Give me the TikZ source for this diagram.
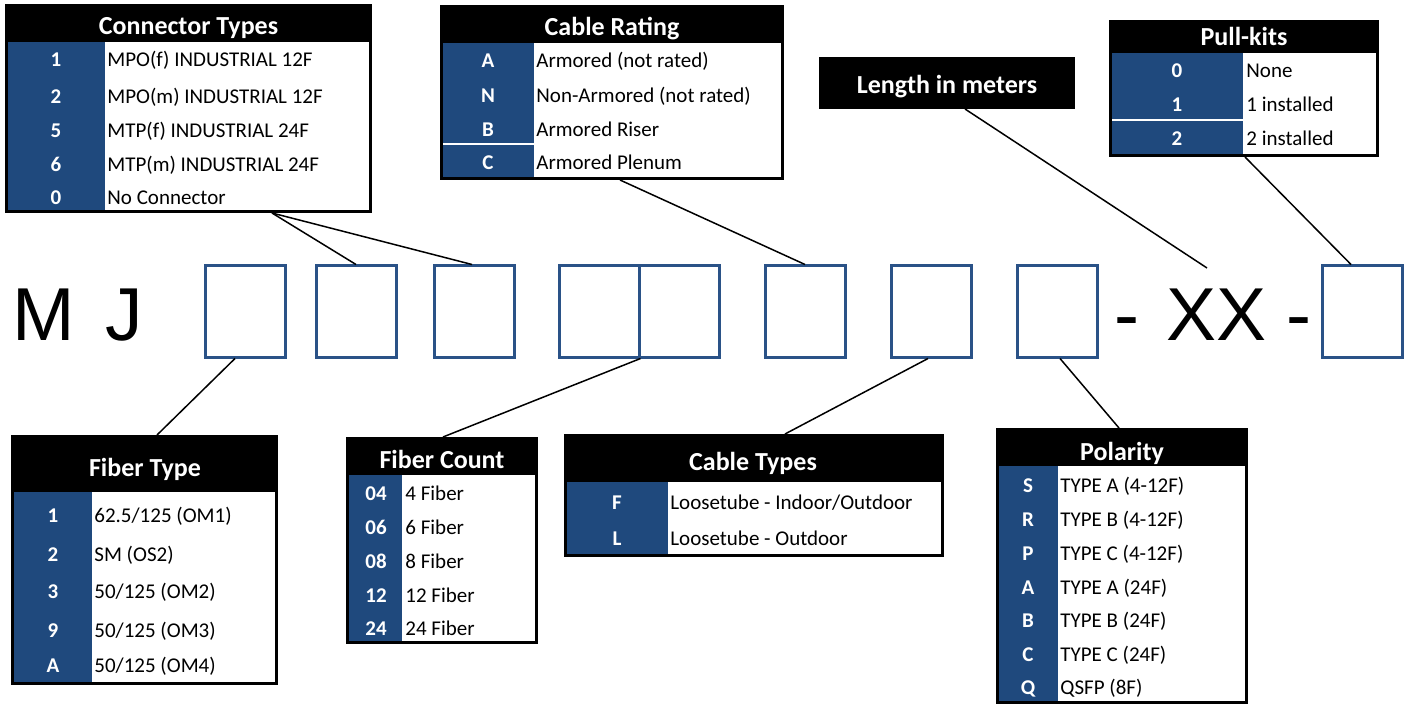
\documentclass[tikz,border=0pt]{standalone}
\usepackage{fontspec}
\setmainfont{Carlito}
\newfontfamily\arialf{Liberation Sans}
\usetikzlibrary{calc,fit}
\definecolor{tblue}{HTML}{1F497D}
\definecolor{bblue}{HTML}{2A5287}
\begin{document}
\begin{tikzpicture}[x=0.5pt,y=-0.5pt,
  frame/.style={fill=black,draw=none,inner sep=0pt,outer sep=0pt},
  bluecol/.style={fill=tblue,draw=none,inner sep=0pt,outer sep=0pt},
  whitecol/.style={fill=white,draw=none,inner sep=0pt,outer sep=0pt},
  hdr/.style={text=white,font=\bfseries\fontsize{13}{15}\selectfont,inner sep=0pt,text height=8.4pt,text depth=0pt},
  key/.style={text=white,font=\bfseries\fontsize{10.5}{12}\selectfont,inner sep=0pt,text height=6.8pt,text depth=0pt},
  itm/.style={text=black,font=\fontsize{10.5}{12}\selectfont,inner sep=0pt,text height=6.8pt,text depth=0pt,anchor=west},
  big/.style={font=\arialf\fontsize{37.5}{40}\selectfont,inner sep=0pt,anchor=base west},
  cbox/.style={draw=bblue,line width=1.5pt,minimum width=40pt,minimum height=45.5pt,inner sep=0pt},
  conn/.style={draw=black,line width=0.75pt},
  sepline/.style={draw=white,line width=0.75pt}]
\useasboundingbox (0,0) rectangle (1406,705);

% ---------- Connector Types ----------
\node[frame,fit={(5,4) (372,213)}] (ct) {};
\node[bluecol,fit={(8,42) (105,210)}] (ctb) {};
\node[whitecol,fit={(105,42) (369,210)}] (ctw) {};
\node[hdr] (cth) at (188.5,26) {Connector Types};
\foreach \y/\k/\t [count=\i] in {60/1/{MPO(f) INDUSTRIAL 12F},97/2/{MPO(m) INDUSTRIAL 12F},131/5/{MTP(f) INDUSTRIAL 24F},165/6/{MTP(m) INDUSTRIAL 24F},198/0/{No Connector}}{
  \node[key] (ctk\i) at (56,\y) {\k};
  \node[itm] (ctt\i) at (107,\y) {\t};
}

% ---------- Cable Rating ----------
\node[frame,fit={(440,5) (784,180)}] (cr) {};
\node[bluecol,fit={(443,43) (534,177)}] (crb) {};
\node[whitecol,fit={(534,43) (781,177)}] (crw) {};
\node[hdr] (crh) at (612,27) {Cable Rating};
\foreach \y/\k/\t [count=\i] in {61/A/{Armored (not rated)},96/N/{Non-Armored (not rated)},130/B/{Armored Riser},163/C/{Armored Plenum}}{
  \node[key] (crk\i) at (488,\y) {\k};
  \node[itm] (crt\i) at (536,\y) {\t};
}
\draw[sepline] (443,144) -- (534,144);

% ---------- Length in meters ----------
\node[frame,fit={(819,57) (1075,109)}] (lm) {};
\node[hdr] (lmh) at (947,85) {Length in meters};

% ---------- Pull-kits ----------
\node[frame,fit={(1109,20) (1379,157)}] (pk) {};
\node[bluecol,fit={(1112,53) (1243,154)}] (pkb) {};
\node[whitecol,fit={(1243,53) (1376,154)}] (pkw) {};
\node[hdr] (pkh) at (1244,37) {Pull-kits};
\foreach \y/\k/\t [count=\i] in {71/0/{None},105/1/{1 installed},139/2/{2 installed}}{
  \node[key] (pkk\i) at (1177,\y) {\k};
  \node[itm] (pkt\i) at (1246,\y) {\t};
}
\draw[sepline] (1112,120) -- (1243,120);

% ---------- Fiber Type ----------
\node[frame,fit={(11,435) (278,685)}] (ft) {};
\node[bluecol,fit={(14,492) (92,682)}] (ftb) {};
\node[whitecol,fit={(92,492) (275,682)}] (ftw) {};
\node[hdr] (fth) at (145,468) {Fiber Type};
\foreach \y/\k/\t [count=\i] in {516/1/{62.5/125 (OM1)},555/2/{SM (OS2)},592/3/{50/125 (OM2)},631/9/{50/125 (OM3)},666/A/{50/125 (OM4)}}{
  \node[key] (ftk\i) at (53,\y) {\k};
  \node[itm] (ftt\i) at (94,\y) {\t};
}

% ---------- Fiber Count ----------
\node[frame,fit={(346,437) (538,644)}] (fc) {};
\node[bluecol,fit={(349,475) (402,641)}] (fcb) {};
\node[whitecol,fit={(402,475) (535,641)}] (fcw) {};
\node[hdr] (fch) at (442,460) {Fiber Count};
\foreach \y/\k/\t [count=\i] in {494/04/{4 Fiber},528/06/{6 Fiber},562/08/{8 Fiber},596/12/{12 Fiber},629/24/{24 Fiber}}{
  \node[key] (fck\i) at (376,\y) {\k};
  \node[itm] (fct\i) at (405,\y) {\t};
}

% ---------- Cable Types ----------
\node[frame,fit={(564,434) (944,557)}] (cty) {};
\node[bluecol,fit={(567,482) (668,554)}] (ctyb) {};
\node[whitecol,fit={(668,482) (941,554)}] (ctyw) {};
\node[hdr] (ctyh) at (753,462) {Cable Types};
\foreach \y/\k/\t [count=\i] in {503/F/{Loosetube - Indoor/Outdoor},539/L/{Loosetube - Outdoor}}{
  \node[key] (ctyk\i) at (617,\y) {\k};
  \node[itm] (ctyt\i) at (670,\y) {\t};
}

% ---------- Polarity ----------
\node[frame,fit={(996,428) (1248,704)}] (po) {};
\node[bluecol,fit={(999,466) (1058,701)}] (pob) {};
\node[whitecol,fit={(1058,466) (1245,701)}] (pow) {};
\node[hdr] (poh) at (1122,452) {Polarity};
\foreach \y/\k/\t [count=\i] in {486/S/{TYPE A (4-12F)},520/R/{TYPE B (4-12F)},554/P/{TYPE C (4-12F)},588/A/{TYPE A (24F)},621/B/{TYPE B (24F)},655/C/{TYPE C (24F)},688/Q/{QSFP (8F)}}{
  \node[key] (pok\i) at (1028,\y) {\k};
  \node[itm] (pot\i) at (1060,\y) {\t};
}

% ---------- Part number row ----------
\node[big] (m) at (12.5,341) {M};
\node[big] (j) at (105,341) {J};
\node[cbox] (b1) at (245,311.5) {};
\node[cbox] (b2) at (356,311.5) {};
\node[cbox] (b3) at (474,311.5) {};
\node[cbox] (b4) at (599,311.5) {};
\node[cbox] (b5) at (679,311.5) {};
\node[cbox] (b6) at (805,311.5) {};
\node[cbox] (b7) at (931,311.5) {};
\node[cbox] (b8) at (1057,311.5) {};
\node[big] (d1) at (1113.6,341) {-};
\node[big] (xx) at (1166,341) {XX};
\node[big] (d2) at (1285.6,341) {-};
\node[cbox] (b9) at (1362,311.5) {};
\coordinate (lmend) at (1207,268);

% ---------- Connectors ----------
\draw[conn] ($(ct.south west)+(267,0)$) -- (b2.north);
\draw[conn] ($(ct.south west)+(267,0)$) -- ($(b3.north)+(-2,0)$);
\draw[conn] ($(cr.south west)+(180,0)$) -- (b6.north);
\draw[conn] ($(lm.south west)+(146,0)$) -- (lmend);
\draw[conn] ($(pk.south west)+(136,0)$) -- ($(b9.north)+(-11,0)$);
\draw[conn] ($(b1.south)+(-10,0)$) -- ($(ft.north west)+(146,0)$);
\draw[conn] (b4.south east) -- ($(fc.north west)+(97,0)$);
\draw[conn] ($(b7.south)+(-3,0)$) -- ($(cty.north west)+(221,0)$);
\draw[conn] ($(b8.south)+(3,0)$) -- ($(po.north west)+(123,0)$);
\end{tikzpicture}
\end{document}
